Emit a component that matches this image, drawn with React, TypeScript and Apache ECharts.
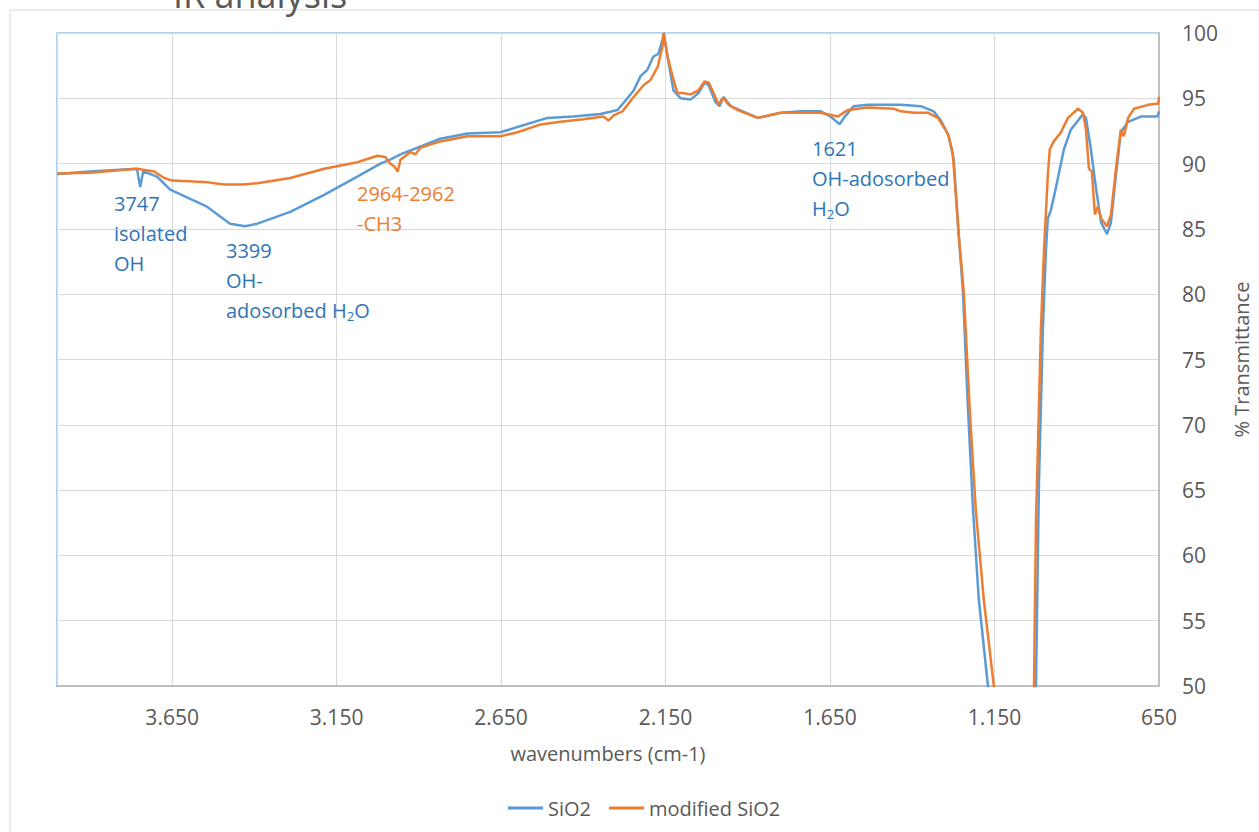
import React, { useEffect, useRef } from "react";
import * as echarts from "echarts";

const seriesNames = ["SiO2", "modified SiO2"];

const sio2Wavenumbers = [
  4000, 3900, 3757, 3747, 3738, 3696, 3656, 3595, 3544, 3474, 3428, 3391, 3291, 3188, 3087, 3017, 2987, 2956,
  2896, 2835, 2752, 2652, 2600, 2509, 2430, 2348, 2296, 2266, 2247, 2226, 2205, 2187, 2172, 2159, 2156, 2144,
  2126, 2104, 2074, 2050, 2031, 2019, 1998, 1986, 1974, 1952, 1870, 1800, 1739, 1678, 1648, 1621, 1608, 1578,
  1535, 1435, 1374, 1335, 1313, 1289, 1274, 1259, 1246, 1231, 1216, 1198, 1170, 1116, 1075, 1039, 1024, 1015,
  1003, 994, 988, 979, 963, 939, 918, 896, 881, 872, 857, 842, 826, 808, 796, 781, 766, 744, 705, 655, 650,
];
const sio2Transmittance = [
  89.2, 89.4, 89.6, 88.2, 89.4, 89.0, 88.0, 87.3, 86.7, 85.4, 85.2, 85.4, 86.3, 87.6, 89.0, 90.0, 90.3, 90.7,
  91.3, 91.9, 92.3, 92.4, 92.8, 93.5, 93.6, 93.8, 94.1, 95.0, 95.6, 96.7, 97.2, 98.2, 98.4, 99.5, 100, 98.2,
  95.6, 95.0, 94.9, 95.4, 96.2, 96.0, 94.7, 94.4, 95.1, 94.4, 93.5, 93.9, 94.0, 94.0, 93.6, 93.0, 93.5, 94.4,
  94.5, 94.5, 94.4, 94.0, 93.3, 92.1, 90.3, 84.6, 80.2, 71.4, 63.8, 56.7, 50.0, 30, 12, 30, 50, 65.5,
  77.3, 83.2, 85.8, 86.4, 88.2, 91.1, 92.6, 93.3, 93.8, 93.5, 91.1, 88.2, 85.5, 84.6, 85.5, 89.1, 92.4, 93.2, 93.6, 93.6, 94.0,
];

const modWavenumbers = [
  4000, 3900, 3757, 3705, 3674, 3650, 3553, 3492, 3431, 3391, 3291, 3188, 3087, 3026, 3002, 2987, 2975, 2964,
  2956, 2935, 2926, 2911, 2896, 2835, 2752, 2652, 2600, 2530, 2470, 2400, 2339, 2323, 2308, 2281, 2247, 2217,
  2196, 2174, 2159, 2156, 2144, 2129, 2114, 2098, 2074, 2050, 2031, 2019, 2004, 1989, 1980, 1974, 1958, 1931,
  1870, 1800, 1739, 1678, 1627, 1596, 1535, 1456, 1435, 1395, 1353, 1322, 1292, 1277, 1259, 1243, 1225, 1207,
  1183, 1152, 1100, 1068, 1036, 1030, 1024, 1015, 1009, 1000, 994, 988, 982, 970, 948, 927, 896, 881, 872, 863,
  854, 845, 836, 826, 808, 796, 781, 766, 757, 744, 726, 683, 652, 650,
];
const modTransmittance = [
  89.25, 89.3, 89.6, 89.4, 88.9, 88.7, 88.6, 88.4, 88.4, 88.5, 88.9, 89.6, 90.1, 90.6, 90.5, 90.0, 89.8, 89.4,
  90.3, 90.7, 90.9, 90.7, 91.2, 91.7, 92.1, 92.1, 92.4, 93.0, 93.2, 93.4, 93.6, 93.3, 93.7, 94.0, 95.1, 96.0,
  96.4, 97.4, 99.0, 100, 98.2, 96.7, 95.4, 95.4, 95.3, 95.6, 96.3, 96.2, 95.4, 94.5, 94.9, 95.0, 94.5, 94.1,
  93.5, 93.9, 93.9, 93.9, 93.6, 94.1, 94.3, 94.2, 94.0, 93.9, 93.9, 93.5, 92.3, 90.8, 84.6, 80.0, 71.0, 63.5,
  56.7, 50.0, 30, 12, 30, 50, 62.6, 71.4, 77.3, 83.2, 86.1, 89.1, 91.1, 91.7, 92.4, 93.5, 94.2, 93.9, 92.6, 89.6,
  89.4, 86.1, 86.7, 85.8, 85.2, 86.1, 89.6, 92.6, 92.1, 93.5, 94.2, 94.5, 94.6, 95.1,
];

const xMin = 650;
const xMax = 4000;
const xInterval = 500;
const yMin = 50;
const yMax = 100;
const yInterval = 5;

const FONT = "'Open Sans', 'Liberation Sans', sans-serif";
const BLUE = "#5B9BD5";
const ORANGE = "#ED7D31";
const BLUE_TEXT = "#2E75B6";
const GRAY_TEXT = "#595959";

function formatWavenumber(v: number): string {
  if (v >= xMax) return "";
  const s = String(Math.round(v));
  return v >= 1000 ? s.slice(0, s.length - 3) + "." + s.slice(-3) : s;
}

function pairs(xs: number[], ys: number[]) {
  return xs.map((x, i) => [x, ys[i]]);
}

function annotation(x: number, top: number, text: string, color: string) {
  return {
    type: "text",
    x,
    y: top,
    silent: true,
    z: 10,
    style: {
      text,
      fontFamily: FONT,
      fontSize: 20,
      lineHeight: 30,
      fill: color,
      align: "left",
      verticalAlign: "top",
      rich: {
        a: { fontFamily: FONT, fontSize: 20, lineHeight: 30, fill: color },
        s: { fontFamily: FONT, fontSize: 13, lineHeight: 18, padding: [12, 0, 0, 0], fill: color },
      },
    },
  };
}

export default function App() {
  const ref = useRef<HTMLDivElement>(null);
  useEffect(() => {
    document.body.style.margin = "0";
    if (!ref.current) return;
    const chart = echarts.init(ref.current, undefined, { renderer: "svg" });
    chart.setOption({
      animation: false,
      backgroundColor: "#ffffff",
      grid: {
        left: 57,
        right: 100,
        top: 33,
        bottom: 146,
        show: true,
        borderColor: "#9DC3E6",
        borderWidth: 1.5,
        backgroundColor: "transparent",
      },
      legend: {
        data: seriesNames,
        left: 503,
        top: 793,
        icon: "rect",
        itemWidth: 35,
        itemHeight: 3,
        itemGap: 18,
        textStyle: { fontFamily: FONT, fontSize: 20, color: GRAY_TEXT },
      },
      xAxis: {
        type: "value",
        min: xMin,
        max: xMax,
        interval: xInterval,
        inverse: true,
        name: "wavenumbers (cm-1)",
        nameLocation: "middle",
        nameGap: 57,
        nameTextStyle: { fontFamily: FONT, fontSize: 20, color: GRAY_TEXT },
        axisLine: { show: true, onZero: false, lineStyle: { color: "#BFBFBF", width: 2 } },
        axisTick: { show: false },
        axisLabel: {
          margin: 20,
          fontFamily: FONT,
          fontSize: 21,
          color: GRAY_TEXT,
          formatter: (v: number) => formatWavenumber(v),
        },
        splitLine: { show: true, lineStyle: { color: "#D9D9D9", width: 1 } },
      },
      yAxis: {
        type: "value",
        position: "right",
        min: yMin,
        max: yMax,
        interval: yInterval,
        name: "% Transmittance",
        nameLocation: "middle",
        nameRotate: 90,
        nameGap: 72,
        nameTextStyle: { fontFamily: FONT, fontSize: 20, color: GRAY_TEXT },
        axisLine: { show: true, lineStyle: { color: "#BFBFBF", width: 2 } },
        axisTick: { show: false },
        axisLabel: { margin: 23, fontFamily: FONT, fontSize: 21, color: GRAY_TEXT },
        splitLine: { show: true, lineStyle: { color: "#D9D9D9", width: 1 } },
      },
      series: [
        {
          name: seriesNames[0],
          type: "line",
          data: pairs(sio2Wavenumbers, sio2Transmittance),
          showSymbol: false,
          symbol: "none",
          clip: true,
          lineStyle: { color: BLUE, width: 2.5 },
          itemStyle: { color: BLUE },
        },
        {
          name: seriesNames[1],
          type: "line",
          data: pairs(modWavenumbers, modTransmittance),
          showSymbol: false,
          symbol: "none",
          clip: true,
          lineStyle: { color: ORANGE, width: 2.5 },
          itemStyle: { color: ORANGE },
        },
      ],
      graphic: [
        {
          type: "rect",
          silent: true,
          z: -10,
          shape: { x: 10, y: 10, width: 1300, height: 900 },
          style: { fill: "none", stroke: "#D9D9D9", lineWidth: 1 },
        },
        {
          type: "text",
          x: 260,
          y: -6,
          silent: true,
          style: {
            text: "IR analysis",
            fontFamily: FONT,
            fontSize: 36,
            fill: GRAY_TEXT,
            align: "center",
            verticalAlign: "middle",
          },
        },
        annotation(114, 188, "{a|3747}\n{a|isolated}\n{a|OH}", BLUE_TEXT),
        annotation(226, 235, "{a|3399}\n{a|OH-}\n{a|adosorbed H}{s|2}{a|O}", BLUE_TEXT),
        annotation(357, 178, "{a|2964-2962}\n{a|-CH3}", ORANGE),
        annotation(812, 133, "{a|1621}\n{a|OH-adosorbed}\n{a|H}{s|2}{a|O}", BLUE_TEXT),
      ],
    });
    return () => chart.dispose();
  }, []);
  return <div ref={ref} style={{ width: 1259, height: 832 }} />;
}
